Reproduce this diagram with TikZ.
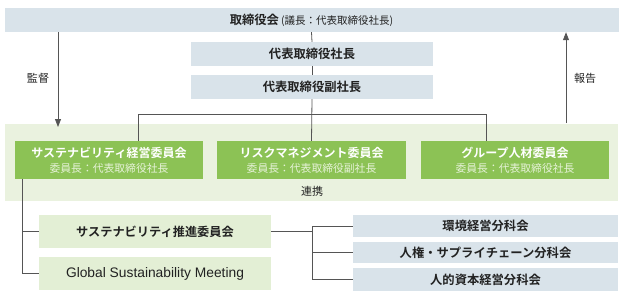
\documentclass[tikz,border=0pt]{standalone}
\usepackage{fontspec}
\setmainfont{Noto Sans CJK JP}[BoldFont={Noto Sans CJK JP Bold}]
\newfontfamily\latinfont{Liberation Sans}
\usetikzlibrary{arrows.meta}
\definecolor{bluebg}{HTML}{D9E3EA}
\definecolor{bandbg}{HTML}{EAF2DF}
\definecolor{greenbox}{HTML}{8CC255}
\definecolor{lightgreen}{HTML}{E3EFD5}
\definecolor{subtext}{HTML}{E6F2D8}
\definecolor{txt}{HTML}{222222}
\definecolor{linec}{HTML}{555555}
\begin{document}
\begin{tikzpicture}[x=1pt,y=-1pt,
  bluebox/.style={fill=bluebg, inner sep=0pt, text=txt, font=\fontsize{12.3}{14}\selectfont\bfseries},
  gbox/.style={fill=greenbox, inner sep=0pt, text=white, align=center, minimum width=188pt, minimum height=38pt},
  lgbox/.style={fill=lightgreen, inner sep=0pt, text=txt, minimum width=232pt, minimum height=33pt, font=\fontsize{12.2}{14}\selectfont\bfseries},
  conn/.style={draw=linec, line width=0.8pt},
  arr/.style={conn, -{Triangle[width=6pt,length=8pt]}},
  lbl/.style={text=txt, inner sep=0pt, font=\fontsize{11}{13}\selectfont}
]
\useasboundingbox (0,0) rectangle (623,301);

% band
\node[fill=bandbg, inner sep=0pt, minimum width=613pt, minimum height=77pt] (band) at (311.5,162.5) {};

% top
\node[bluebox, minimum width=614pt, minimum height=24pt] (board) at (311.5,20)
  {取締役会\,{\mdseries\fontsize{10.5}{12}\selectfont (議長：代表取締役社長)}};
\node[bluebox, minimum width=242pt, minimum height=24pt] (pres) at (312,54) {代表取締役社長};
\node[bluebox, minimum width=242pt, minimum height=24pt] (vp) at (312,87) {代表取締役副社長};

% committees
\node[gbox] (c1) at (109,160) {{\fontsize{12}{14}\selectfont\bfseries サステナビリティ経営委員会}\\[3pt]{\fontsize{10.8}{12}\selectfont\color{subtext}委員長：代表取締役社長}};
\node[gbox, minimum width=189pt] (c2) at (311.5,160) {{\fontsize{12}{14}\selectfont\bfseries リスクマネジメント委員会}\\[3pt]{\fontsize{10.8}{12}\selectfont\color{subtext}委員長：代表取締役副社長}};
\node[gbox] (c3) at (515,160) {{\fontsize{12}{14}\selectfont\bfseries グループ人材委員会}\\[3pt]{\fontsize{10.8}{12}\selectfont\color{subtext}委員長：代表取締役社長}};
\node[lbl] (renkei) at (312,191) {連携};

% lower left
\node[lgbox] (sp) at (155,231.5) {サステナビリティ推進委員会};
\node[lgbox, font=\latinfont\fontsize{13.8}{16}\selectfont] (gsm) at (155,273.5) {Global Sustainability Meeting};

% lower right
\node[bluebox, minimum width=265pt, minimum height=22pt] (env) at (485.5,226) {環境経営分科会};
\node[bluebox, minimum width=265pt, minimum height=21pt] (hr) at (485.5,252.5) {人権・サプライチェーン分科会};
\node[bluebox, minimum width=265pt, minimum height=23pt] (hc) at (485.5,279.5) {人的資本経営分科会};

% side labels
\node[lbl] (kantoku) at (38,78) {監督};
\node[lbl] (houkoku) at (585,78) {報告};

% connectors top
\coordinate (h1) at (138,114);
\coordinate (h3) at (486,114);
\draw[conn] (board.south) -- (pres.north);
\draw[conn] (pres.south) -- (vp.north);
\draw[conn] (vp.south) -- (c2.north);
\draw[conn] (c1.north -| h1) -- (h1) -- (h3) -- (c3.north -| h3);

% arrows
\coordinate (supEnd) at (58,127);
\coordinate (repStart) at (566,123);
\draw[arr] (board.south -| supEnd) -- (supEnd);
\draw[arr] (repStart) -- (board.south -| repStart);

% lower connectors
\coordinate (lt) at (22,0);
\draw[conn] (c1.south -| lt) -- (lt |- gsm.west) -- (gsm.west);
\draw[conn] (lt |- sp.west) -- (sp.west);
\coordinate (rj) at (312,0);
\draw[conn] (sp.east) -- (sp.east -| rj);
\draw[conn] (env.west -| rj) -- (hc.west -| rj);
\draw[conn] (env.west -| rj) -- (env.west);
\draw[conn] (hr.west -| rj) -- (hr.west);
\draw[conn] (hc.west -| rj) -- (hc.west);
\end{tikzpicture}
\end{document}
